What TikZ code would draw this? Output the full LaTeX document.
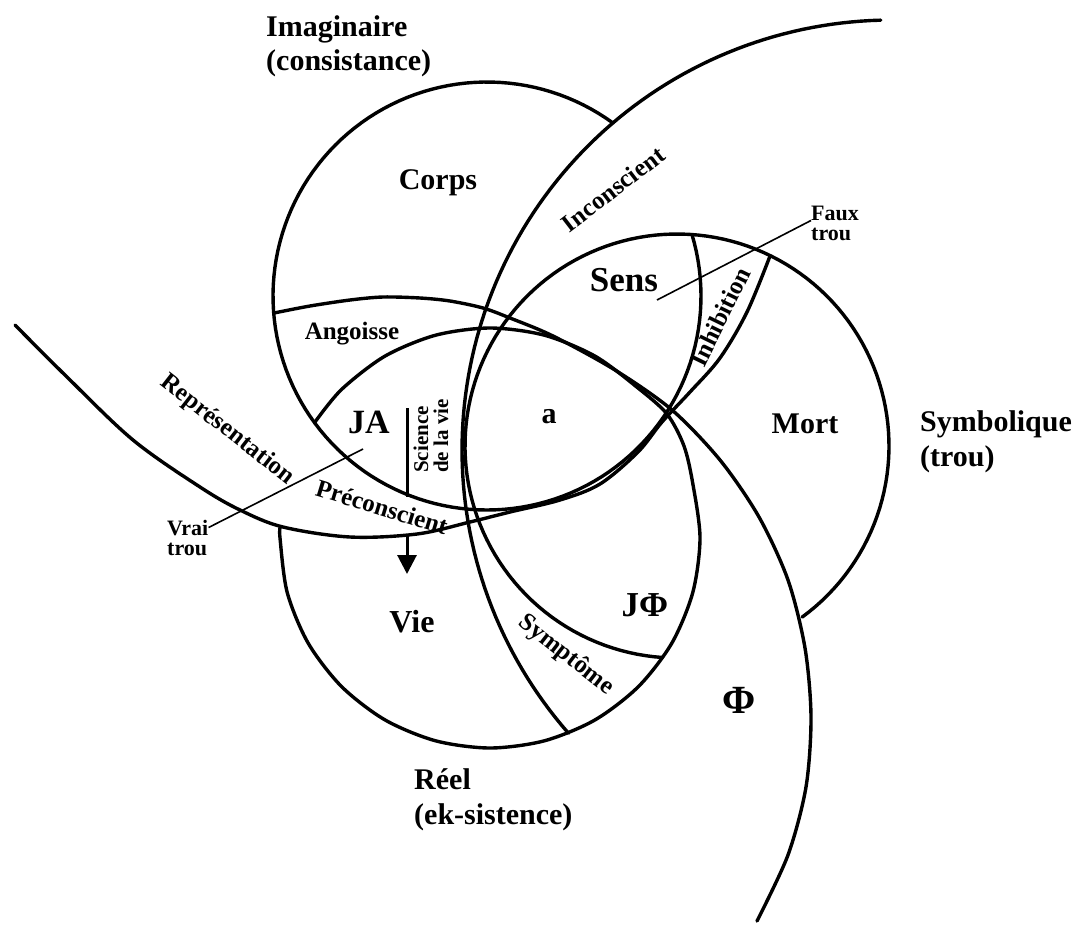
\documentclass[tikz,border=0pt]{standalone}
\usepackage{fontspec}
\setmainfont{Liberation Serif}
\usetikzlibrary{arrows.meta}
\begin{document}
\begin{tikzpicture}[x=1pt,y=-1pt,
    ring/.style={line width=3.4pt,line cap=round,line join=round},
    guide/.style={line width=1.6pt},
    big/.style={font=\bfseries\fontsize{30}{30}\selectfont,inner sep=0pt},
    mid/.style={font=\bfseries\fontsize{25}{25}\selectfont,inner sep=0pt},
    small/.style={font=\bfseries\fontsize{22}{22}\selectfont,inner sep=0pt}]
    \useasboundingbox (0,0) rectangle (1084,927);
    \draw[ring] plot[domain=-53.9:-376.7,samples=140] ({487+214*cos(\x)},{296+214*sin(\x)});
    \draw[ring] plot[domain=53.8:-266.1,samples=140] ({677+212*cos(\x)},{446+212*sin(\x)});
    \draw[ring] plot[smooth,tension=0.5] coordinates {(314.5,422.7) (341.5,389.5) (385,356.1)
        (435.6,335.2) (490,328) (544.4,335.2) (595,356.1) (638,388) (667,414) (684,446)
        (692.8,483.6) (700,538) (692.8,592.4) (671.9,643) (638.5,686.5) (595,719.9) (544.4,740.8)
        (490,748) (435.6,740.8) (385,719.9) (341.5,686.5) (308.1,643) (287.2,592.4) (280,538)
        (280.3,527)};
    \draw[ring] plot[domain=268.5:138.8,samples=100] ({892+430*cos(\x)},{450+430*sin(\x)});
    \draw[ring] plot[smooth,tension=0.55] coordinates {(15,325) (67,377) (133,440) (200,487)
        (240,510) (283,527) (350,537) (417,534) (470,522) (510,512) (560,500) (600,484)
        (638,452) (662,422) (690,392) (720,358) (747,312) (770,256)};
    \draw[ring] plot[smooth,tension=0.5] coordinates {(757,921) (788,855) (806,787)
        (811,717) (805,648) (788,580) (759,517) (720,460) (671.8,409.8)
        (614.5,369.7) (553,336) (510,318) (483,308) (450,301) (420,298) (383,297) (350,300)
        (310,306) (274,313)};
    \node[big,anchor=base west] (imag) at (266,36) {Imaginaire};
    \node[big,anchor=base west] (imagsub) at (266,70) {(consistance)};
    \node[big,anchor=base west] (symb) at (920,431) {Symbolique};
    \node[big,anchor=base west] (symbsub) at (920,466) {(trou)};
    \node[big,anchor=base west] (reel) at (414,789) {Réel};
    \node[big,anchor=base west] (reelsub) at (414,824) {(ek-sistence)};
    \node[big,anchor=base] (corps) at (438,189) {Corps};
    \node[big,anchor=base,font=\bfseries\fontsize{35}{35}\selectfont] (sens) at (624,291) {Sens};
    \node[big,anchor=base] (mort) at (805,433) {Mort};
    \node[big,anchor=base,font=\bfseries\fontsize{32}{32}\selectfont] (vie) at (412,632) {Vie};
    \node[big,anchor=base,font=\bfseries\fontsize{34}{34}\selectfont] (ja) at (369,433) {JA};
    \node[big,anchor=base,font=\bfseries\fontsize{35}{35}\selectfont] (jphi) at (645,616) {JΦ};
    \node[big,anchor=base] (objet) at (549,423) {a};
    \node[big,anchor=base,font=\bfseries\fontsize{40}{40}\selectfont] (phi) at (739,713) {Φ};
    \node[mid] (angoisse) at (352,334) {Angoisse};
    \node[mid,rotate=-38] (repres) at (227,430) {Représentation};
    \node[mid,rotate=-17] (precons) at (382,507) {Préconscient};
    \node[mid,rotate=37.6] (incons) at (613,189) {Inconscient};
    \node[mid,rotate=64] (inhib) at (720,317) {Inhibition};
    \node[mid,rotate=-38] (sympt) at (566,655) {Symptôme};
    \node[inner sep=0pt,rotate=90,align=left,font=\bfseries\fontsize{21}{20}\selectfont] (science) at (431,436) {Science\\de la vie};
    \node[small,anchor=base west] (vrai) at (167,535) {Vrai};
    \node[small,anchor=base west] (vraisub) at (167,555) {trou};
    \node[small,anchor=base west] (faux) at (811,220) {Faux};
    \node[small,anchor=base west] (fauxsub) at (811,240) {trou};
    \coordinate (vraihole) at (363,449);
    \coordinate (fauxhole) at (657,300);
    \draw[guide] (vrai.east) -- (vraihole);
    \draw[guide] (faux.south west) -- (fauxhole);
    \coordinate (sciA) at (407,408);
    \coordinate (sciB) at (407,497);
    \coordinate (sciC) at (407,536);
    \coordinate (sciD) at (407,574);
    \draw[line width=3pt] (sciA) -- (sciB);
    \draw[line width=3pt,-{Triangle[length=19pt,width=19pt]}] (sciC) -- (sciD);
\end{tikzpicture}
\end{document}
